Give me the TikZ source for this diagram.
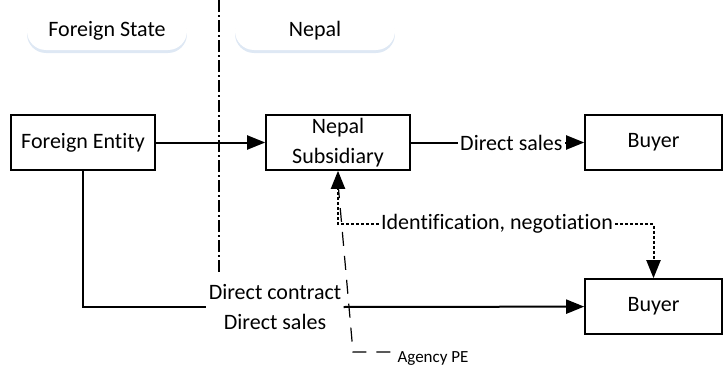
\documentclass[tikz,border=0pt]{standalone}
\usepackage{fontspec}
\setmainfont{Carlito}[Ligatures=NoCommon]
\usetikzlibrary{arrows.meta,shadows}
\definecolor{pillshade}{RGB}{200,216,236}

\begin{document}
\begin{tikzpicture}[x=0.5pt,y=-0.5pt,
    every node/.style={font=\fontsize{11pt}{15pt}\selectfont},
    box/.style={draw,line width=0.8pt,minimum width=72pt,minimum height=27.5pt,inner sep=1pt,align=center},
    pill/.style={fill=white,rounded corners=9.5pt,minimum width=80pt,minimum height=19pt,
        drop shadow={shadow xshift=0pt,shadow yshift=-1.5pt,fill=pillshade,opacity=0.6}},
    lbl/.style={fill=white,inner sep=1pt,align=center},
    conn/.style={line width=1pt,-{Triangle[length=9pt,width=7pt]}},
    dotline/.style={line width=1pt,dash pattern=on 1.5pt off 1pt,-{Triangle[length=9pt,width=7pt]}},
    dashline/.style={line width=0.6pt,dash pattern=on 7pt off 5pt},
    border/.style={line width=0.7pt,dash pattern=on 6pt off 1.5pt on 1pt off 1.5pt}]
    \useasboundingbox (0,0) rectangle (724,375);

    % regions
    \node[pill] (fstate) at (107,31) {Foreign State};
    \node[pill] (nepal) at (315,31) {Nepal};
    \coordinate (bordtop) at (219,0);
    \coordinate (bordbot) at (219,275);
    \draw[border] (bordtop) -- (bordbot);

    % entities
    \node[box] (fentity) at (83,142.5) {Foreign Entity};
    \node[box] (nsub) at (338,142.5) {Nepal\\Subsidiary};
    \node[box,minimum width=68.5pt] (buyer1) at (653.5,142.5) {Buyer};
    \node[box,minimum width=68.5pt] (buyer2) at (653.5,306.5) {Buyer};

    % flows
    \draw[conn] (fentity) -- (nsub);
    \draw[conn] (nsub) -- node[lbl,pos=0.58] {Direct sales} (buyer1);
    \node[lbl] (dcontract) at (275,307) {Direct contract\\Direct sales};
    \draw[line width=1pt] (fentity) |- (dcontract.west);
    \draw[conn] (dcontract.east) -- (buyer2);

    % agency
    \node[lbl] (idneg) at (497,224) {Identification, negotiation};
    \draw[dotline] (idneg.west) -| (nsub.south);
    \draw[dotline] (idneg.east) -| (buyer2.north);
    \node[font=\fontsize{8.5pt}{10pt}\selectfont] (agency) at (433,359) {Agency PE};
    \coordinate (agcorner) at (353,352);
    \draw[dashline] (agency.west |- agcorner) -- (agcorner) -- ([yshift=-6pt]nsub.south);
\end{tikzpicture}
\end{document}
